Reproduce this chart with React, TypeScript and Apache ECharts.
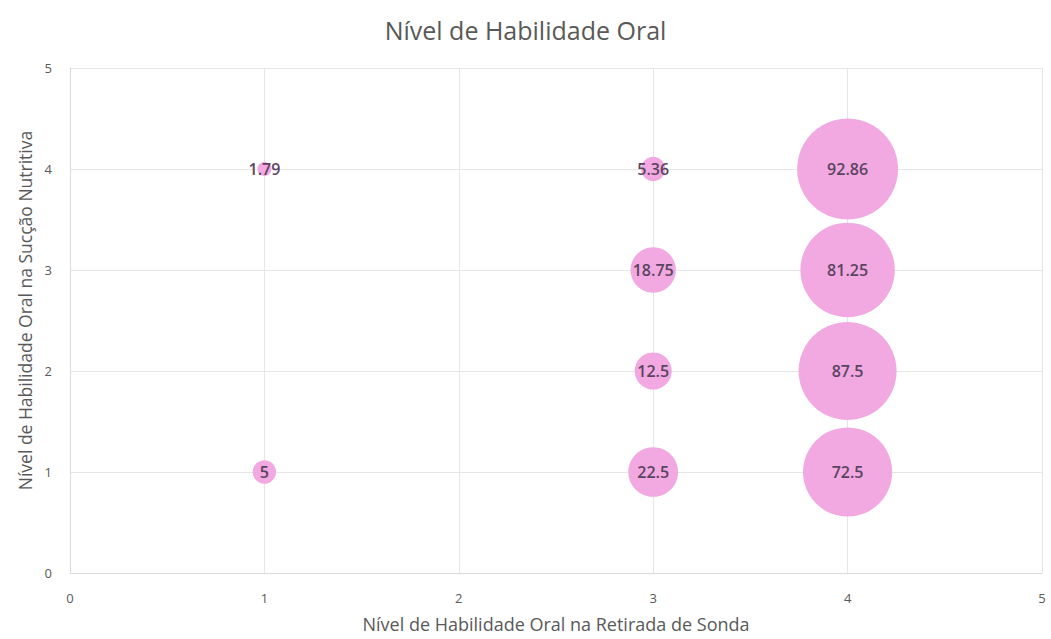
import React, { useEffect, useRef } from "react";
import * as echarts from "echarts";

// Nível na retirada de sonda (x), nível na sucção nutritiva (y), percentual (tamanho)
const retiradaSonda = [1, 3, 4, 3, 4, 3, 4, 1, 3, 4];
const succaoNutritiva = [4, 4, 4, 3, 3, 2, 2, 1, 1, 1];
const percentuais = [1.79, 5.36, 92.86, 18.75, 81.25, 12.5, 87.5, 5, 22.5, 72.5];

const axisTicks = [0, 1, 2, 3, 4, 5];

const FONT = "'Open Sans', Lato, sans-serif";

export default function App() {
  const ref = useRef<HTMLDivElement>(null);

  useEffect(() => {
    if (!ref.current) return;
    const chart = echarts.init(ref.current, undefined, { renderer: "svg" });
    const data = percentuais.map((p, i) => [retiradaSonda[i], succaoNutritiva[i], p]);
    chart.setOption({
      animation: false,
      backgroundColor: "#ffffff",
      textStyle: { fontFamily: FONT },
      title: {
        text: "Nível de Habilidade Oral",
        left: "center",
        top: 12,
        textStyle: { fontFamily: FONT, fontSize: 25, fontWeight: "normal", color: "#595959" },
      },
      grid: { left: 70, right: 9, top: 68, bottom: 66 },
      xAxis: {
        type: "value",
        min: axisTicks[0],
        max: axisTicks[axisTicks.length - 1],
        interval: 1,
        name: "Nível de Habilidade Oral na Retirada de Sonda",
        nameLocation: "middle",
        nameGap: 42,
        nameTextStyle: { fontFamily: FONT, fontSize: 18, color: "#595959" },
        axisLine: { show: true, lineStyle: { color: "#d9d9d9" } },
        axisTick: { show: false },
        axisLabel: { fontFamily: FONT, fontSize: 13, color: "#595959", margin: 18 },
        splitLine: { show: true, lineStyle: { color: "#e6e6e6" } },
      },
      yAxis: {
        type: "value",
        min: axisTicks[0],
        max: axisTicks[axisTicks.length - 1],
        interval: 1,
        name: "Nível de Habilidade Oral na Sucção Nutritiva",
        nameLocation: "middle",
        nameGap: 36,
        nameTextStyle: { fontFamily: FONT, fontSize: 17.5, color: "#595959", padding: [0, 0, 0, 20] },
        axisLine: { show: true, lineStyle: { color: "#d9d9d9" } },
        axisTick: { show: false },
        axisLabel: { fontFamily: FONT, fontSize: 13, color: "#595959", margin: 18 },
        splitLine: { show: true, lineStyle: { color: "#e6e6e6" } },
      },
      series: [
        {
          type: "scatter",
          data,
          symbolSize: (v: number[]) => 10.48 * Math.sqrt(v[2]),
          itemStyle: { color: "#f2a8e0", opacity: 1 },
          label: {
            show: true,
            position: "inside",
            formatter: (p: any) => String(p.value[2]),
            fontFamily: FONT,
            fontSize: 16,
            fontWeight: 600,
            color: "#5a4560",
          },
        },
      ],
    });
    return () => chart.dispose();
  }, []);

  return (
    <div
      ref={ref}
      style={{ position: "fixed", left: 0, top: 0, width: 1051, height: 639, background: "#fff" }}
    />
  );
}
